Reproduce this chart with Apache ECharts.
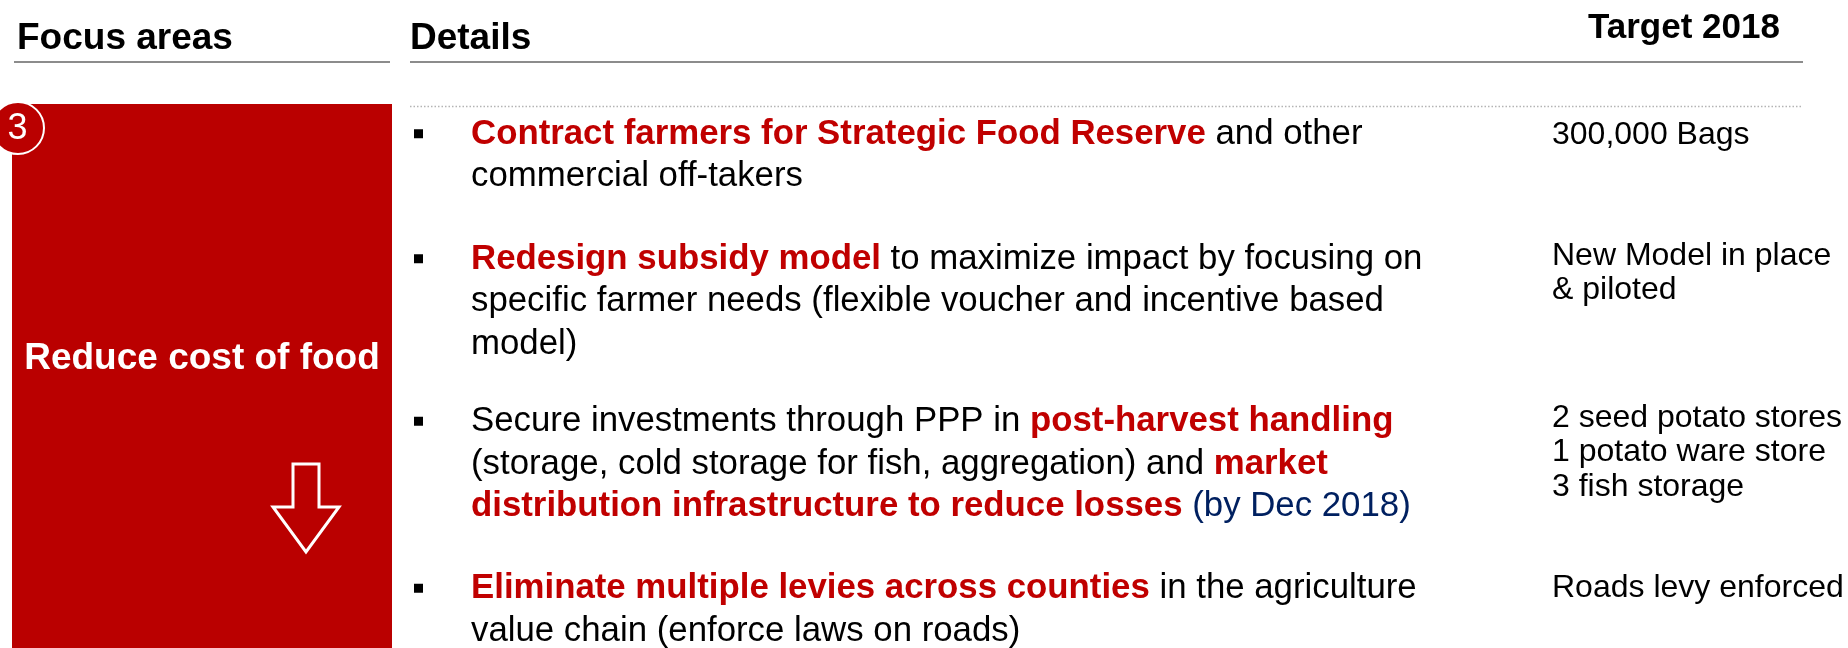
<!DOCTYPE html>
<html>
<head>
<meta charset="utf-8">
<script src="https://cdn.jsdelivr.net/npm/echarts@6/dist/echarts.min.js"></script>
<style>html,body{margin:0;padding:0;background:#fff}#c{width:1848px;height:648px}</style>
</head>
<body>
<div id="c"></div>
<script>
// ---- content ----
const headers = ["Focus areas", "Details", "Target 2018"];
const focusNumber = "3";
const focusTitle = "Reduce cost of food";
// each row: list of lines; each line: list of [style, text] segments (b = red bold, n = normal, d = blue)
const detailRows = [
  [[["b","Contract farmers for Strategic Food Reserve"],["n"," and other"]],
   [["n","commercial off-takers"]]],
  [[["b","Redesign subsidy model"],["n"," to maximize impact by focusing on"]],
   [["n","specific farmer needs (flexible voucher and incentive based"]],
   [["n","model)"]]],
  [[["n","Secure investments through PPP in "],["b","post-harvest handling"]],
   [["n","(storage, cold storage for fish, aggregation) and "],["b","market"]],
   [["b","distribution infrastructure to reduce losses"],["d"," (by Dec 2018)"]]],
  [[["b","Eliminate multiple levies across counties"],["n"," in the agriculture"]],
   [["n","value chain (enforce laws on roads)"]]]
];
const targetRows = [
  ["300,000 Bags"],
  ["New Model in place", "& piloted"],
  ["2 seed potato stores", "1 potato ware store", "3 fish storage"],
  ["Roads levy enforced"]
];

// ---- styling / layout ----
const RED = "#BA0000", TXT_RED = "#C00000", BLUE = "#002060";
const SANS = "'Liberation Sans', Arial, Helvetica, sans-serif";

const BODY_SIZE = 34.8, BODY_LH = 42.5;
const TGT_SIZE = 32, TGT_LH = 34.5;
const rowStart = 113;
const rowGaps = [40, 35, 39.5];
const targetNudge = [1, -3.5, -4, -1];
const textX = 471, bulletX = 414, targetX = 1552;

const els = [];
// headers
els.push({type:'text', x:17, y:39, style:{text:headers[0], font:"bold 37px " + SANS, fill:'#000', verticalAlign:'middle'}});
els.push({type:'text', x:410, y:39, style:{text:headers[1], font:"bold 37px " + SANS, fill:'#000', verticalAlign:'middle'}});
els.push({type:'text', x:1588, y:28, style:{text:headers[2], font:"bold 35px " + SANS, fill:'#000', verticalAlign:'middle'}});
// underlines
els.push({type:'line', shape:{x1:14, y1:62, x2:390, y2:62}, style:{stroke:'#8c8c8c', lineWidth:2}});
els.push({type:'line', shape:{x1:410, y1:62, x2:1803, y2:62}, style:{stroke:'#8c8c8c', lineWidth:2}});
// dotted separator
els.push({type:'line', shape:{x1:410, y1:106.5, x2:1803, y2:106.5}, style:{stroke:'#b4b4b4', lineWidth:1.5, lineDash:[1.5,2]}});
// red focus box
els.push({type:'rect', shape:{x:12, y:104, width:380, height:544}, style:{fill:RED}});
els.push({type:'circle', shape:{cx:18, cy:128, r:26}, style:{fill:RED, stroke:'#fff', lineWidth:2}});
els.push({type:'text', x:17.5, y:129, style:{text:focusNumber, font:"36px " + SANS, fill:'#fff', align:'center', verticalAlign:'middle'}});
els.push({type:'text', x:202, y:359, style:{text:focusTitle, font:"bold 37px " + SANS, fill:'#fff', align:'center', verticalAlign:'middle'}});
els.push({type:'polygon', shape:{points:[[293,464],[319,464],[319,507],[339,507],[306,552],[273,507],[293,507]]}, style:{fill:'none', stroke:'#fff', lineWidth:3, lineJoin:'miter'}});

// detail rows
let rowTop = rowStart;
const rich = {
  b:{fontFamily:SANS, fontWeight:'bold', fontSize:BODY_SIZE, lineHeight:BODY_LH, fill:TXT_RED, color:TXT_RED},
  n:{fontFamily:SANS, fontWeight:'normal', fontSize:BODY_SIZE, lineHeight:BODY_LH, fill:'#000', color:'#000'},
  d:{fontFamily:SANS, fontWeight:'normal', fontSize:BODY_SIZE, lineHeight:BODY_LH, fill:BLUE, color:BLUE}
};
detailRows.forEach((row, i) => {
  const txt = row.map(line => line.map(([s, t]) => '{' + s + '|' + t + '}').join('')).join('\n');
  els.push({type:'rect', shape:{x:bulletX, y:rowTop + BODY_LH/2 - 5, width:9, height:9}, style:{fill:'#000'}});
  els.push({type:'text', x:textX, y:rowTop, style:{text:txt, rich:rich, font:BODY_SIZE + "px " + SANS, verticalAlign:'top', align:'left'}});
  const tl = targetRows[i];
  els.push({type:'text', x:targetX, y:rowTop + BODY_LH/2 - TGT_LH/2 + targetNudge[i], style:{text:tl.join('\n'), font:TGT_SIZE + "px " + SANS, lineHeight:TGT_LH, fill:'#000', verticalAlign:'top', align:'left'}});
  rowTop += row.length * BODY_LH + (rowGaps[i] || 0);
});

const chart = echarts.init(document.getElementById('c'), null, {renderer:'canvas'});
chart.setOption({animation:false, backgroundColor:'#fff', graphic:{elements:els}});
</script>
</body>
</html>
